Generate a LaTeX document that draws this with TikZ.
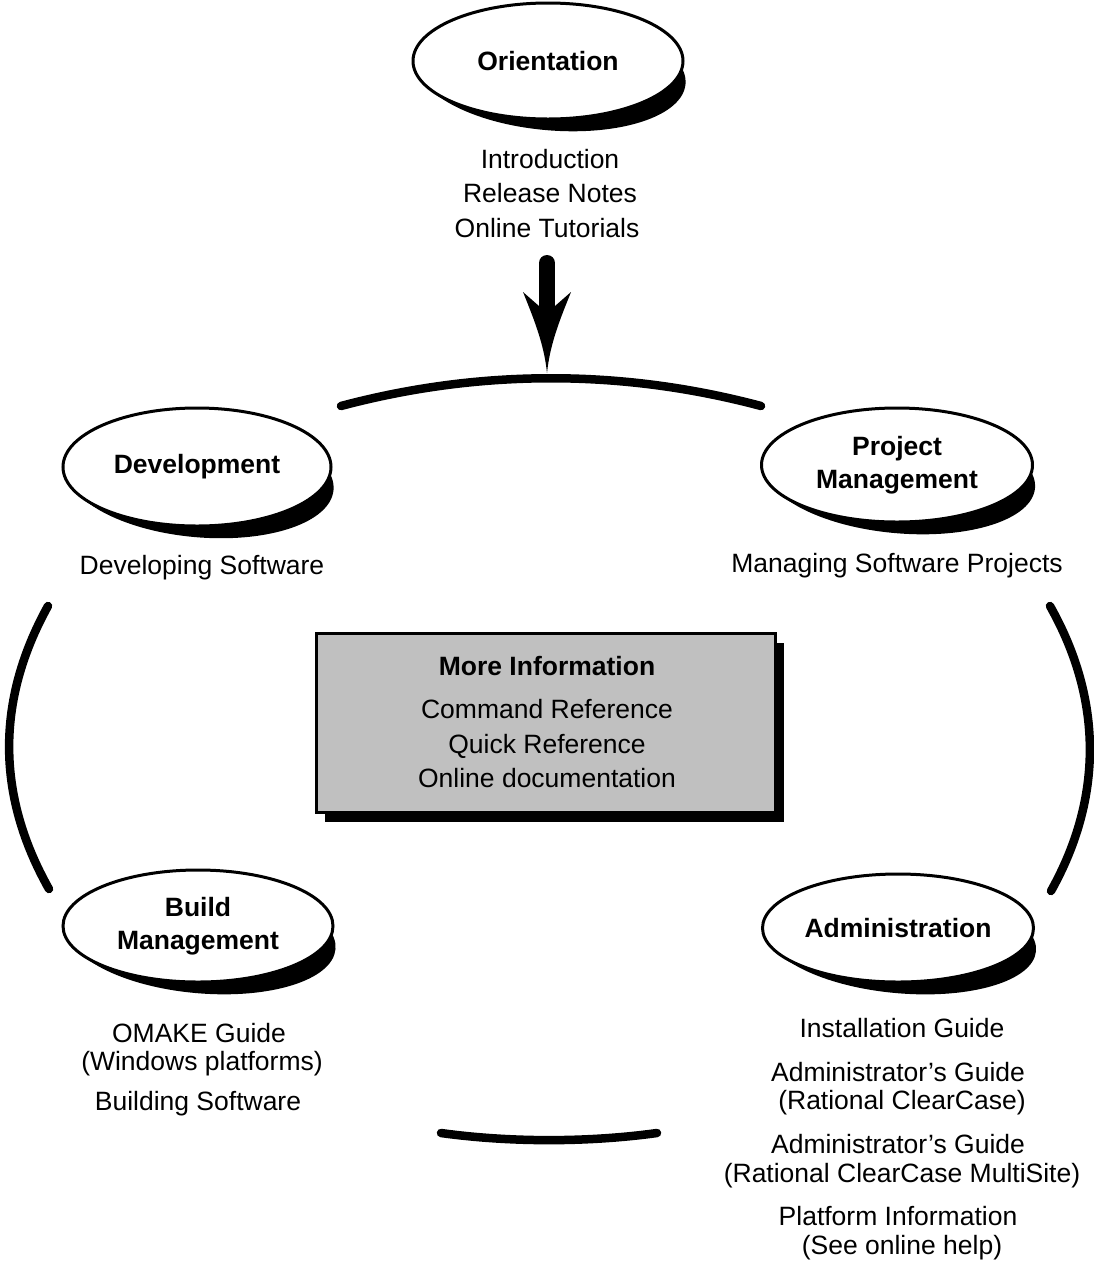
\documentclass[tikz,border=0pt]{standalone}
\usepackage{fontspec}
\setmainfont{Liberation Sans}
\usetikzlibrary{shapes.geometric, shadows, backgrounds}
\definecolor{boxgray}{RGB}{192,192,192}
\begin{document}
\begin{tikzpicture}[x=1pt, y=-1pt,
  ell/.style={ellipse, draw, line width=3pt, fill=white, inner sep=0pt, align=center,
    font=\fontsize{26.5}{33}\selectfont\bfseries},
  infobox/.style={rectangle, draw, line width=3pt, fill=boxgray, inner sep=0pt,
    minimum width=459pt, minimum height=179pt,
    drop shadow={shadow xshift=9pt, shadow yshift=-10pt, opacity=1, fill=black}},
  txt/.style={anchor=base, inner sep=0pt, font=\fontsize{26.5}{32}\selectfont},
  btxt/.style={txt, font=\fontsize{26.5}{32}\selectfont\bfseries},
  arcline/.style={line width=8.5pt, line cap=round},
  ellshadow/.style={fill=black}
]
\useasboundingbox (0,0) rectangle (1094,1262);

% ellipses
\node[ell, minimum width=270pt, minimum height=116pt] (orient) at (548,61) {Orientation};
\node[ell, minimum width=268pt, minimum height=118pt] (devel) at (197,467) {Development};
\node[ell, minimum width=271pt, minimum height=114pt] (projm) at (897,465) {Project\\Management};
\node[ell, minimum width=270pt, minimum height=112pt] (buildm) at (198,926) {Build\\Management};
\node[ell, minimum width=271pt, minimum height=108pt] (admin) at (898,928) {Administration};

\begin{scope}[on background layer]
  \fill[ellshadow, rotate around={-5:(orient.center)}] ([xshift=4pt,yshift=-11pt]orient.center) ellipse [x radius=135pt, y radius=58pt];
  \fill[ellshadow, rotate around={-5:(devel.center)}] ([xshift=4pt,yshift=-11pt]devel.center) ellipse [x radius=134pt, y radius=59pt];
  \fill[ellshadow, rotate around={-5:(projm.center)}] ([xshift=4pt,yshift=-11pt]projm.center) ellipse [x radius=135.5pt, y radius=57pt];
  \fill[ellshadow, rotate around={-5:(buildm.center)}] ([xshift=4pt,yshift=-11pt]buildm.center) ellipse [x radius=135pt, y radius=56pt];
  \fill[ellshadow, rotate around={-5:(admin.center)}] ([xshift=4pt,yshift=-11pt]admin.center) ellipse [x radius=135.5pt, y radius=54pt];
\end{scope}

% orientation texts
\node[txt] (intro) at (550,168) {Introduction};
\node[txt] (relnotes) at (550,202) {Release Notes};
\node[txt] (tutor) at (547,237) {Online Tutorials};

% arrow
\coordinate (arrtop) at (547,263);
\coordinate (arrtip) at (547,373);
\draw[line width=16pt, line cap=round] (arrtop) -- ([yshift=-48pt]arrtop);
\fill[shift={(arrtip)}] (0,0) .. controls (-3,-30) and (-14,-56) .. (-24,-81)
   -- (-8,-67) -- (8,-67) -- (24,-81) .. controls (14,-56) and (3,-30) .. (0,0) -- cycle;

% arcs
\coordinate (tA) at (341,406);
\coordinate (tB) at (761,406);
\draw[arcline] (tA) .. controls (480,369) and (622,369) .. (tB);
\coordinate (lA) at (48,606);
\coordinate (lB) at (49,889);
\draw[arcline] (lA) .. controls (-4,700) and (-4,795) .. (lB);
\coordinate (rA) at (1050,606);
\coordinate (rB) at (1051,891);
\draw[arcline] (rA) .. controls (1103,700) and (1103,798) .. (rB);
\coordinate (bA) at (441,1133);
\coordinate (bB) at (657,1133);
\draw[arcline] (bA) .. controls (510,1142.5) and (588,1142.5) .. (bB);

% side texts
\node[txt] (devsw) at (202,574) {Developing Software};
\node[txt] (mgsw) at (897,572) {Managing Software Projects};

% center box
\node[infobox] (more) at (545.5,722.5) {};
\node[btxt] (moreinfo) at (547,675) {More Information};
\node[txt] (cmdref) at (547,718) {Command Reference};
\node[txt] (quickref) at (547,753) {Quick Reference};
\node[txt] (onldoc) at (547,787) {Online documentation};

% build texts
\node[txt] (omake) at (199,1042) {OMAKE Guide};
\node[txt] (winplat) at (202,1070) {(Windows platforms)};
\node[txt] (bldsw) at (198,1110) {Building Software};

% admin texts
\node[txt] (inst) at (902,1037) {Installation Guide};
\node[txt] (adm1) at (898,1081) {Administrator’s Guide};
\node[txt] (rcc) at (902,1109) {(Rational ClearCase)};
\node[txt] (adm2) at (898,1153) {Administrator’s Guide};
\node[txt] (rccms) at (902,1182) {(Rational ClearCase MultiSite)};
\node[txt] (platinfo) at (898,1225) {Platform Information};
\node[txt] (seehelp) at (902,1254) {(See online help)};
\end{tikzpicture}
\end{document}
